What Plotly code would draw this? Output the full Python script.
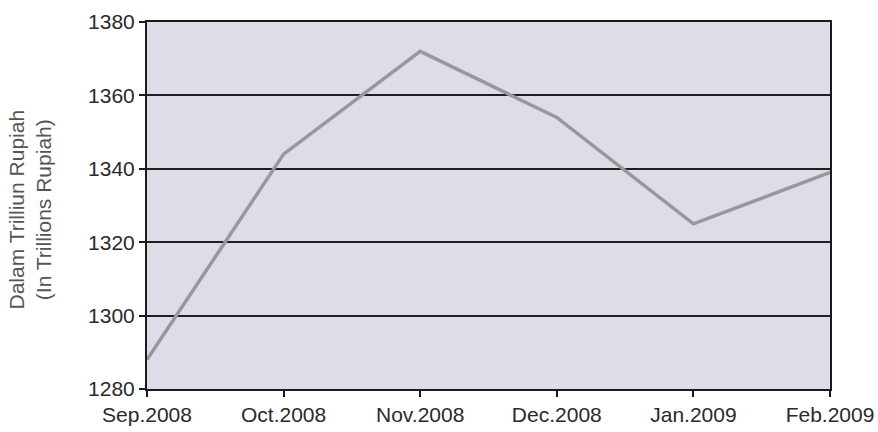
import plotly.graph_objects as go

months = ["Sep.2008", "Oct.2008", "Nov.2008", "Dec.2008", "Jan.2009", "Feb.2009"]
values = [1288, 1344, 1372, 1354, 1325, 1339]
y_ticks = [1280, 1300, 1320, 1340, 1360, 1380]
y_title = "Dalam Trilliun Rupiah<br>(In Trillions Rupiah)"

fig = go.Figure()
fig.add_trace(go.Scatter(
    x=list(range(len(months))), y=values, mode="lines",
    line=dict(color="#98989c", width=3.5),
    showlegend=False, hoverinfo="skip",
))

font = "Liberation Sans, Arial, sans-serif"
fig.update_layout(
    width=878, height=432,
    margin=dict(l=147, r=48, t=22, b=43),
    paper_bgcolor="#ffffff",
    plot_bgcolor="#dcdde7",
    font=dict(family=font, size=16, color="#2a2a2a"),
    xaxis=dict(
        range=[0, len(months) - 1], automargin=False,
        tickmode="array", tickvals=list(range(len(months))), ticktext=months,
        showgrid=False, zeroline=False,
        showline=True, linecolor="#1a1a1a", linewidth=2, mirror=True,
        ticks="outside", ticklen=6, tickcolor="#1a1a1a", tickwidth=2,
        tickfont=dict(size=21, color="#2a2a2a"),
    ),
    yaxis=dict(
        range=[1280, 1380], automargin=False,
        tickmode="array", tickvals=y_ticks,
        showgrid=True, gridcolor="#1e1e1e", gridwidth=2,
        zeroline=False,
        showline=True, linecolor="#1a1a1a", linewidth=2, mirror=True,
        ticks="outside", ticklen=6, tickcolor="#1a1a1a", tickwidth=2,
        tickfont=dict(size=21, color="#2a2a2a"),
    ),
)
fig.add_annotation(
    text=y_title, textangle=-90, showarrow=False,
    xref="paper", yref="paper", x=0, y=0.5, xanchor="center", yanchor="middle",
    xshift=-118, yshift=-4,
    font=dict(family=font, size=21, color="#555555"),
)

fig.write_html("out.html")
